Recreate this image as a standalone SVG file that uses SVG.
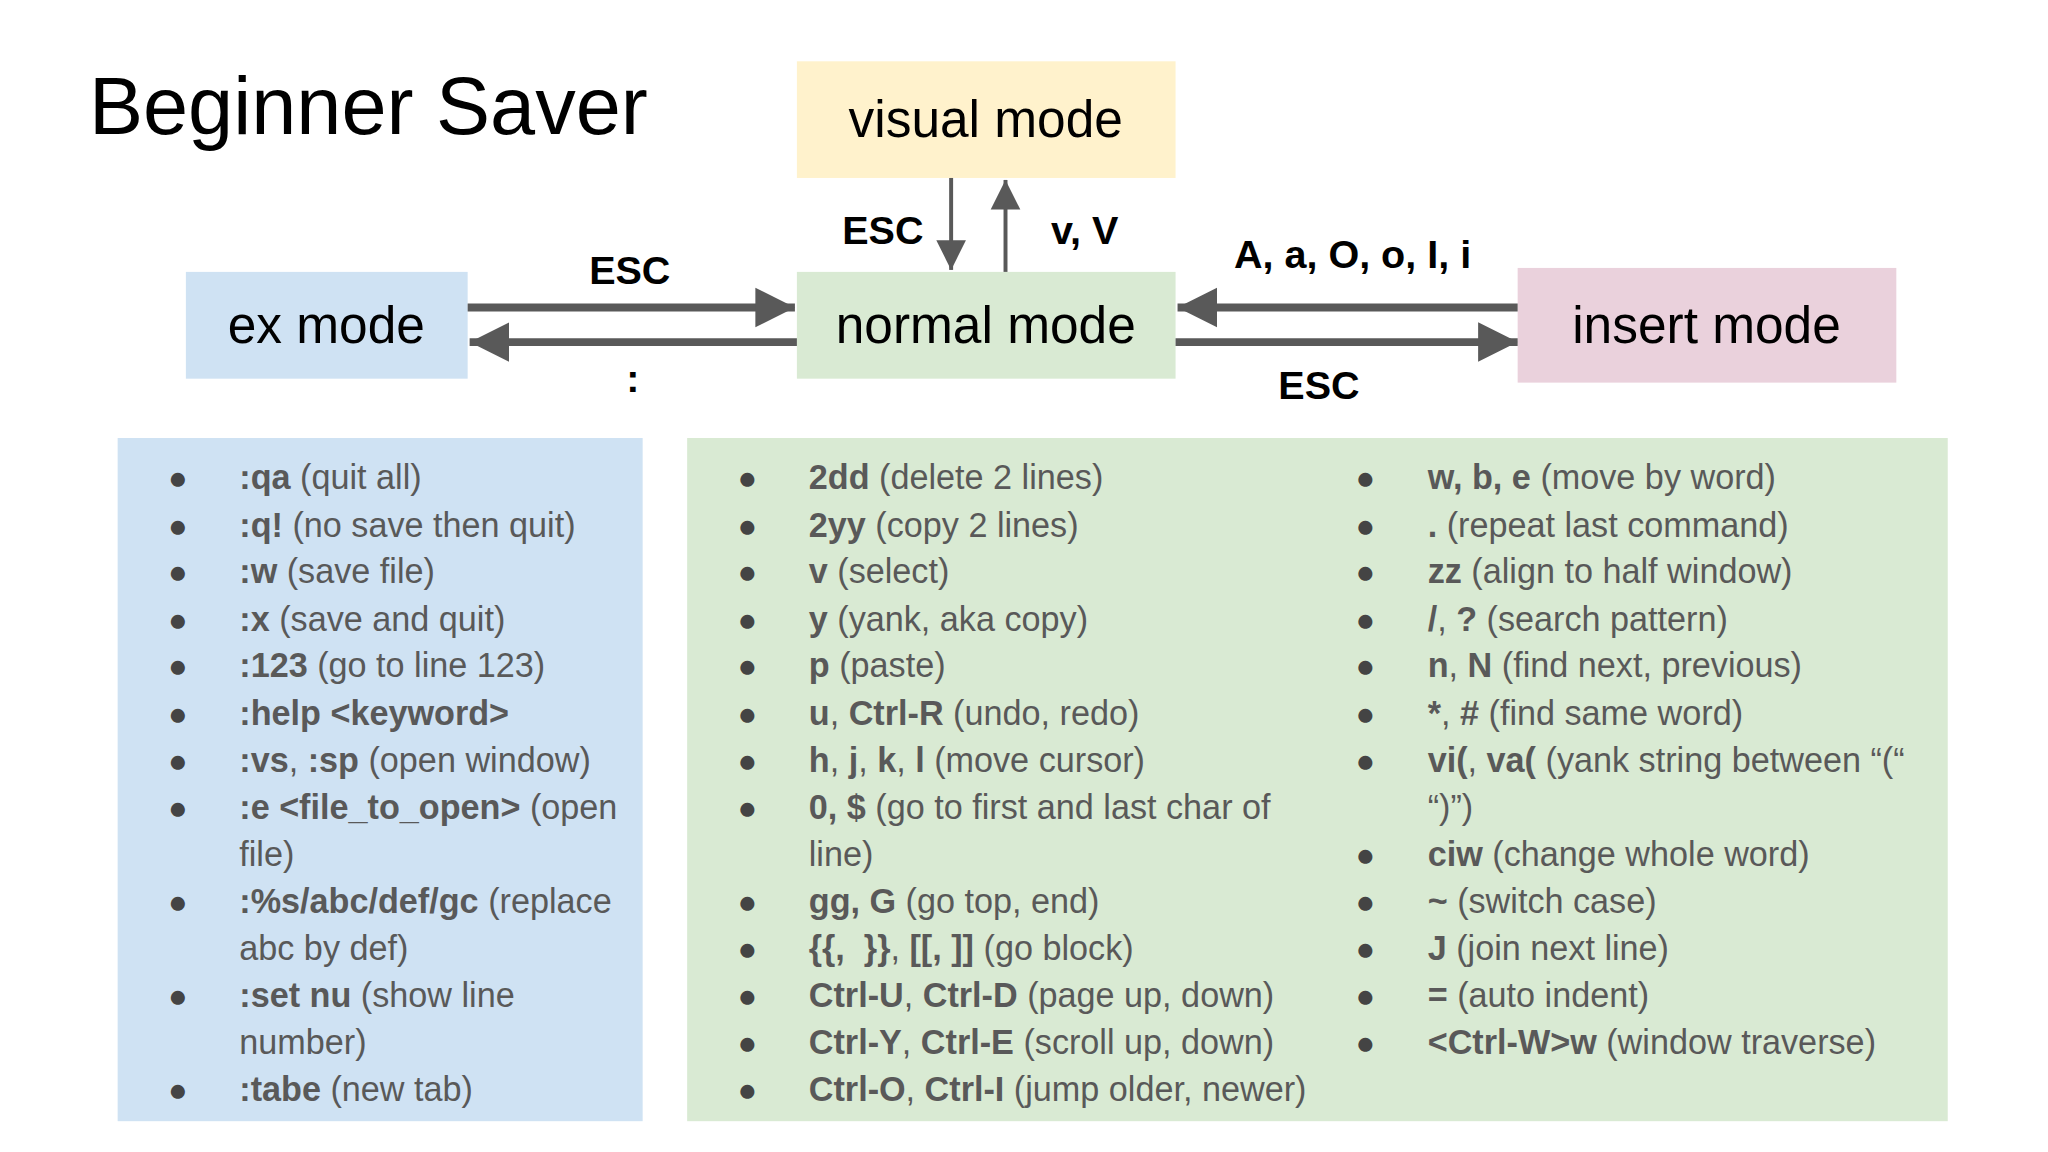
<svg xmlns="http://www.w3.org/2000/svg" width="2048" height="1152" viewBox="0 0 2048 1152">
<defs>
<style>
text{font-family:"Liberation Sans",Arial,sans-serif}
.node{font-size:52px;fill:#000;text-anchor:middle}
.lbl{font-size:40px;font-weight:bold;fill:#000;text-anchor:middle}
.li{font-size:34.6px;fill:#595959}
.b{font-weight:bold}
.bul{font-size:33px;fill:#444}
.thick{stroke:#595959;stroke-width:8;fill:none}
.thin{stroke:#595959;stroke-width:4;fill:none}
</style>
<marker id="ah" viewBox="0 0 10 10" refX="10" refY="5" markerWidth="5" markerHeight="5.5" orient="auto" markerUnits="strokeWidth"><path d="M0,0L10,5L0,10z" fill="#595959"/></marker>
<marker id="ahs" viewBox="0 0 10 10" refX="10" refY="5" markerWidth="7.5" markerHeight="8" orient="auto" markerUnits="strokeWidth"><path d="M0,0L10,5L0,10z" fill="#595959"/></marker>
</defs>
<rect width="2048" height="1152" fill="#fff"/>
<g transform="scale(0.9887)">
<text x="90" y="136" style="font-size:82px" fill="#000">Beginner Saver</text>

<g id="visual"><rect x="806" y="62" width="383" height="118" fill="#fff2cc"/><text class="node" x="997" y="139">visual mode</text></g>
<g id="ex"><rect x="188" y="275" width="285" height="108" fill="#cfe2f3"/><text class="node" x="330" y="347">ex mode</text></g>
<g id="normal"><rect x="806" y="275" width="383" height="108" fill="#d9ead3"/><text class="node" x="997" y="347">normal mode</text></g>
<g id="insert"><rect x="1535" y="271" width="383" height="116" fill="#ead1dc"/><text class="node" x="1726" y="347">insert mode</text></g>

<g id="connectors">
<line class="thick" x1="473" y1="311" x2="804" y2="311" marker-end="url(#ah)"/>
<line class="thick" x1="806" y1="346" x2="475" y2="346" marker-end="url(#ah)"/>
<line class="thick" x1="1535" y1="311" x2="1191" y2="311" marker-end="url(#ah)"/>
<line class="thick" x1="1189" y1="346" x2="1535" y2="346" marker-end="url(#ah)"/>
<line class="thin" x1="962" y1="180" x2="962" y2="273" marker-end="url(#ahs)"/>
<line class="thin" x1="1017" y1="275" x2="1017" y2="182" marker-end="url(#ahs)"/>
<text class="lbl" x="637" y="287">ESC</text>
<text class="lbl" x="640" y="396">:</text>
<text class="lbl" x="893" y="247">ESC</text>
<text class="lbl" x="1097" y="247">v, V</text>
<text class="lbl" x="1368" y="271">A, a, O, o, I, i</text>
<text class="lbl" x="1334" y="404">ESC</text>
</g>

<g id="ex-list">
<rect x="119" y="443" width="531" height="691" fill="#cfe2f3"/>
<g class="bul">
<text x="170" y="495">●</text><text x="170" y="543">●</text><text x="170" y="590">●</text><text x="170" y="638">●</text><text x="170" y="685">●</text><text x="170" y="733">●</text><text x="170" y="781">●</text><text x="170" y="828">●</text><text x="170" y="923">●</text><text x="170" y="1019">●</text><text x="170" y="1114">●</text>
</g>
<g class="li">
<text x="242" y="495"><tspan class="b">:qa</tspan> (quit all)</text>
<text x="242" y="543"><tspan class="b">:q!</tspan> (no save then quit)</text>
<text x="242" y="590"><tspan class="b">:w</tspan> (save file)</text>
<text x="242" y="638"><tspan class="b">:x</tspan> (save and quit)</text>
<text x="242" y="685"><tspan class="b">:123</tspan> (go to line 123)</text>
<text x="242" y="733"><tspan class="b">:help &lt;keyword&gt;</tspan></text>
<text x="242" y="781"><tspan class="b">:vs</tspan>, <tspan class="b">:sp</tspan> (open window)</text>
<text x="242" y="828"><tspan class="b">:e &lt;file_to_open&gt;</tspan> (open</text>
<text x="242" y="876">file)</text>
<text x="242" y="923"><tspan class="b">:%s/abc/def/gc</tspan> (replace</text>
<text x="242" y="971">abc by def)</text>
<text x="242" y="1019"><tspan class="b">:set nu</tspan> (show line</text>
<text x="242" y="1066">number)</text>
<text x="242" y="1114"><tspan class="b">:tabe</tspan> (new tab)</text>
</g>
</g>

<g id="normal-list">
<rect x="695" y="443" width="1275" height="691" fill="#d9ead3"/>
<g class="bul">
<text x="746" y="495">●</text><text x="746" y="543">●</text><text x="746" y="590">●</text><text x="746" y="638">●</text><text x="746" y="685">●</text><text x="746" y="733">●</text><text x="746" y="781">●</text><text x="746" y="828">●</text><text x="746" y="923">●</text><text x="746" y="971">●</text><text x="746" y="1019">●</text><text x="746" y="1066">●</text><text x="746" y="1114">●</text>
<text x="1371" y="495">●</text><text x="1371" y="543">●</text><text x="1371" y="590">●</text><text x="1371" y="638">●</text><text x="1371" y="685">●</text><text x="1371" y="733">●</text><text x="1371" y="781">●</text><text x="1371" y="876">●</text><text x="1371" y="923">●</text><text x="1371" y="971">●</text><text x="1371" y="1019">●</text><text x="1371" y="1066">●</text>
</g>
<g class="li">
<text x="818" y="495"><tspan class="b">2dd</tspan> (delete 2 lines)</text>
<text x="818" y="543"><tspan class="b">2yy</tspan> (copy 2 lines)</text>
<text x="818" y="590"><tspan class="b">v</tspan> (select)</text>
<text x="818" y="638"><tspan class="b">y</tspan> (yank, aka copy)</text>
<text x="818" y="685"><tspan class="b">p</tspan> (paste)</text>
<text x="818" y="733"><tspan class="b">u</tspan>, <tspan class="b">Ctrl-R</tspan> (undo, redo)</text>
<text x="818" y="781"><tspan class="b">h</tspan>, <tspan class="b">j</tspan>, <tspan class="b">k</tspan>, <tspan class="b">l</tspan> (move cursor)</text>
<text x="818" y="828"><tspan class="b">0, $</tspan> (go to first and last char of</text>
<text x="818" y="876">line)</text>
<text x="818" y="923"><tspan class="b">gg, G</tspan> (go top, end)</text>
<text x="818" y="971"><tspan class="b">{{,&#160; }}</tspan>, <tspan class="b">[[, ]]</tspan> (go block)</text>
<text x="818" y="1019"><tspan class="b">Ctrl-U</tspan>, <tspan class="b">Ctrl-D</tspan> (page up, down)</text>
<text x="818" y="1066"><tspan class="b">Ctrl-Y</tspan>, <tspan class="b">Ctrl-E</tspan> (scroll up, down)</text>
<text x="818" y="1114"><tspan class="b">Ctrl-O</tspan>, <tspan class="b">Ctrl-I</tspan> (jump older, newer)</text>
<text x="1444" y="495"><tspan class="b">w, b, e</tspan> (move by word)</text>
<text x="1444" y="543"><tspan class="b">.</tspan> (repeat last command)</text>
<text x="1444" y="590"><tspan class="b">zz</tspan> (align to half window)</text>
<text x="1444" y="638"><tspan class="b">/</tspan>, <tspan class="b">?</tspan> (search pattern)</text>
<text x="1444" y="685"><tspan class="b">n</tspan>, <tspan class="b">N</tspan> (find next, previous)</text>
<text x="1444" y="733"><tspan class="b">*</tspan>, <tspan class="b">#</tspan> (find same word)</text>
<text x="1444" y="781"><tspan class="b">vi(</tspan>, <tspan class="b">va(</tspan> (yank string between “(“</text>
<text x="1444" y="828">“)”)</text>
<text x="1444" y="876"><tspan class="b">ciw</tspan> (change whole word)</text>
<text x="1444" y="923"><tspan class="b">~</tspan> (switch case)</text>
<text x="1444" y="971"><tspan class="b">J</tspan> (join next line)</text>
<text x="1444" y="1019"><tspan class="b">=</tspan> (auto indent)</text>
<text x="1444" y="1066"><tspan class="b">&lt;Ctrl-W&gt;w</tspan> (window traverse)</text>
</g>
</g>
</g>
</svg>
